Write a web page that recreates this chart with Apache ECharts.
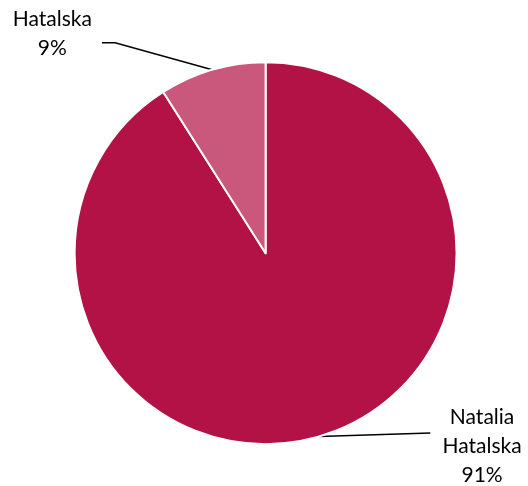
<!DOCTYPE html>
<html><head><meta charset="utf-8">
<script src="https://cdn.jsdelivr.net/npm/echarts@6/dist/echarts.min.js"></script>
<style>html,body{margin:0;padding:0;background:#fff}#c{width:528px;height:486px}</style>
</head><body><div id="c"></div>
<script>
const categories = ['Natalia Hatalska', 'Hatalska'];
const labelNames = ['Natalia\nHatalska', 'Hatalska'];
const values = [91, 9];
const colors = ['#B31247', '#C9587C'];

const chart = echarts.init(document.getElementById('c'), null, {renderer: 'canvas'});
const W = 528, H = 486;
// label anchor placement (relative to chart size)
const labelPos = [
  {x: 0.913 * W, y: 0.918 * H, line: [0.815 * W, 0.891 * H]},
  {x: 0.099 * W, y: 0.07 * H, line: [0.218 * W, 0.088 * H], line2: [0.193 * W, 0.088 * H]}
];
chart.setOption({
  animation: false,
  series: [{
    type: 'pie',
    center: ['50.3%', '52.1%'],
    radius: 191,
    startAngle: 90,
    clockwise: true,
    percentPrecision: 0,
    data: categories.map((c, i) => ({name: c, value: values[i], itemStyle: {color: colors[i]}})),
    itemStyle: {borderColor: '#fff', borderWidth: 2},
    label: {
      show: true,
      formatter: p => labelNames[p.dataIndex] + '\n' + p.percent + '%',
      fontFamily: 'Lato',
      fontSize: 21,
      lineHeight: 29,
      color: '#000',
      align: 'center'
    },
    labelLine: {show: true, lineStyle: {color: '#000', width: 1.5}, smooth: false},
    labelLayout: function (params) {
      const lp = labelPos[params.dataIndex];
      const p0 = params.labelLinePoints ? params.labelLinePoints[0] : lp.line;
      const pts = [p0, lp.line, lp.line2 || lp.line];
      return {x: lp.x, y: lp.y, align: 'center', verticalAlign: 'middle', labelLinePoints: pts};
    }
  }]
});
</script></body></html>
